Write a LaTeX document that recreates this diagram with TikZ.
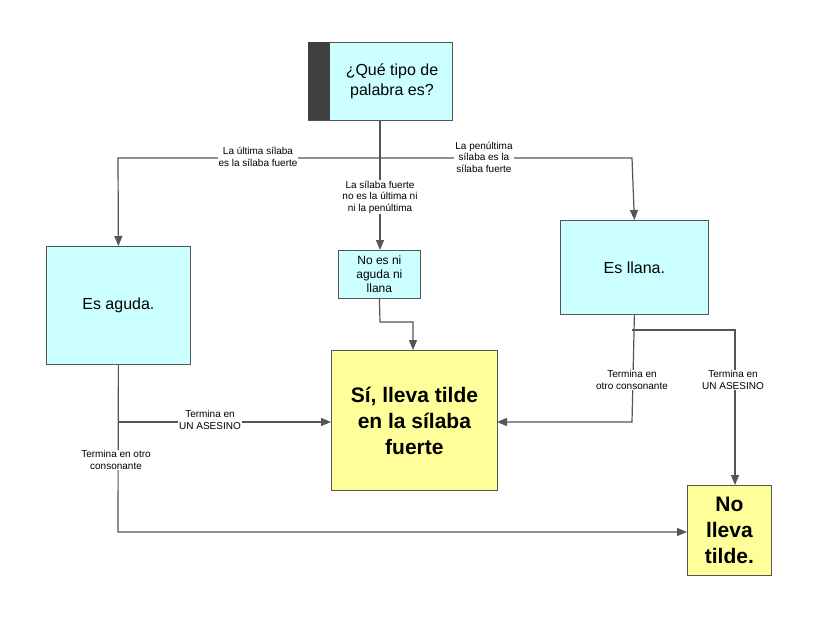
\documentclass[tikz,border=0pt]{standalone}
\usepackage{fontspec}
\setmainfont{Liberation Sans}
\usetikzlibrary{arrows.meta}
\definecolor{cy}{HTML}{CCFFFF}
\definecolor{ye}{HTML}{FFFF99}
\definecolor{ln}{HTML}{555555}
\begin{document}
\begin{tikzpicture}[x=1pt,y=-1pt,
  box/.style={draw=ln,line width=0.8pt,inner sep=0pt,align=center},
  conn/.style={draw=ln,line width=1.2pt},
  arr/.style={conn,-{Triangle[length=10pt,width=8pt]}},
  lab/.style={fill=white,inner sep=1pt,font=\fontsize{10}{11.5}\selectfont,align=center}]
\useasboundingbox[fill=white] (0,0) rectangle (820,621);
% boxes
\node[box,fill=cy,minimum width=144,minimum height=78,anchor=north west] (top) at (308,42) {};
\fill[black!75] (308.4,42.4) rectangle (330,119.6);
\node[font=\fontsize{16}{20}\selectfont,align=center] (toptxt) at (392,81) {¿Qué tipo de\\palabra es?};
\node[box,fill=cy,minimum width=144,minimum height=118,anchor=north west,font=\fontsize{16}{19}\selectfont] (ag) at (46,246) {Es aguda.};
\node[box,fill=cy,minimum width=82,minimum height=48,anchor=north west,font=\fontsize{12}{14}\selectfont] (mid) at (338,250) {No es ni\\aguda ni\\llana};
\node[box,fill=cy,minimum width=148,minimum height=94,anchor=north west,font=\fontsize{16}{19}\selectfont] (ll) at (560,220) {Es llana.};
\node[box,fill=ye,minimum width=166,minimum height=140,anchor=north west,font=\bfseries\fontsize{21}{26}\selectfont] (si) at (331,350) {Sí, lleva tilde\\en la sílaba\\fuerte};
\node[box,fill=ye,minimum width=84,minimum height=90,anchor=north west,font=\bfseries\fontsize{21}{26}\selectfont] (no) at (687,485) {No\\lleva\\tilde.};
% coordinates
\coordinate (j1) at (380,158);
\coordinate (c1) at (118,158);
\coordinate (c2) at (632,158);
\coordinate (m1) at (380,322);
\coordinate (m2) at (413,322);
\coordinate (a1) at (118,422);
\coordinate (a2) at (118,532);
\coordinate (l1) at (632,330);
\coordinate (l2) at (735,330);
\coordinate (l3) at (632,422);
% connectors
\draw[arr] (380,120) -- (380,250);
\draw[arr] (j1) -- (c1) -- (ag.north);
\draw[arr] (j1) -- (c2) -- (ll.north);
\draw[arr] (mid.south) -- (m1) -- (m2) -- (413,350);
\draw[arr] (ag.south) -- (a2) -- (687,532);
\draw[arr] (a1) -- (331,422);
\draw[arr] (ll.south) -- (l3) -- (497,422);
\draw[arr] (l1) -- (l2) -- (735,485);
% labels
\node[lab] at (258,157) {La última sílaba\\es la sílaba fuerte};
\node[lab] at (484,157) {La penúltima\\sílaba es la\\sílaba fuerte};
\node[lab] at (380,197) {La sílaba fuerte\\no es la última ni\\ni la penúltima};
\node[lab] at (210,420) {Termina en\\UN ASESINO};
\node[lab] at (116,460) {Termina en otro\\consonante};
\node[lab] at (632,380) {Termina en\\otro consonante};
\node[lab] at (733,380) {Termina en\\UN ASESINO};
\end{tikzpicture}
\end{document}
